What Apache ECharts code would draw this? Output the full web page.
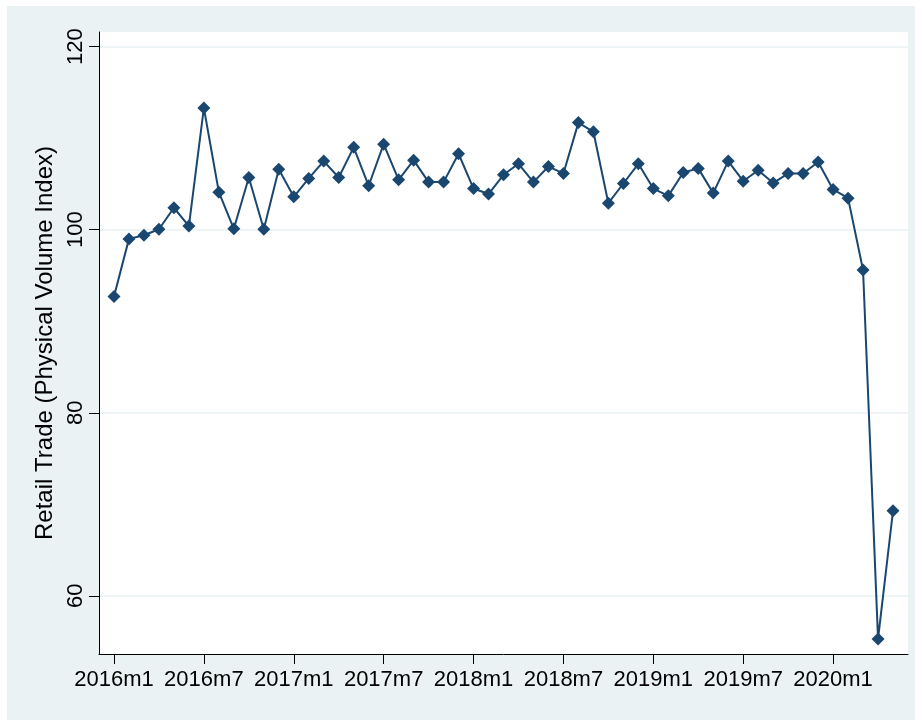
<!DOCTYPE html>
<html>
<head>
<meta charset="utf-8">
<script src="https://cdn.jsdelivr.net/npm/echarts@6/dist/echarts.min.js"></script>
<style>html,body{margin:0;padding:0;background:#fff;}#c{width:922px;height:723px;}</style>
</head>
<body>
<div id="c"></div>
<script>
// month labels 2016m1 .. 2020m5
const months = [
  '2016m1','2016m2','2016m3','2016m4','2016m5','2016m6','2016m7','2016m8','2016m9','2016m10','2016m11','2016m12',
  '2017m1','2017m2','2017m3','2017m4','2017m5','2017m6','2017m7','2017m8','2017m9','2017m10','2017m11','2017m12',
  '2018m1','2018m2','2018m3','2018m4','2018m5','2018m6','2018m7','2018m8','2018m9','2018m10','2018m11','2018m12',
  '2019m1','2019m2','2019m3','2019m4','2019m5','2019m6','2019m7','2019m8','2019m9','2019m10','2019m11','2019m12',
  '2020m1','2020m2','2020m3','2020m4','2020m5'
];
const retail = [
  92.7, 99.0, 99.4, 100.05, 102.4, 100.4, 113.3, 104.1, 100.1, 105.7, 100.05, 106.6,
  103.6, 105.6, 107.5, 105.7, 109.0, 104.8, 109.35, 105.45, 107.6, 105.2, 105.2, 108.3,
  104.5, 103.9, 106.0, 107.2, 105.2, 106.9, 106.15, 111.7, 110.7, 102.9, 105.05, 107.2,
  104.5, 103.7, 106.25, 106.7, 104.0, 107.5, 105.3, 106.5, 105.1, 106.15, 106.15, 107.4,
  104.4, 103.45, 95.6, 55.3, 69.3
];
const xTickIdx = [0, 6, 12, 18, 24, 30, 36, 42, 48];
const yTicks = [60, 80, 100, 120];
const yTitle = 'Retail Trade (Physical Volume Index)';

const chart = echarts.init(document.getElementById('c'), null, {renderer: 'canvas'});
const font = 'Liberation Sans, Arial, Helvetica, sans-serif';
chart.setOption({
  animation: false,
  backgroundColor: '#ffffff',
  graphic: [{
    type: 'rect', z: -10, silent: true,
    shape: {x: 7, y: 6, width: 908, height: 714},
    style: {fill: '#EAF2F3'}
  }],
  grid: {
    left: 99, top: 32, right: 14, bottom: 69,
    show: true, backgroundColor: '#ffffff', borderWidth: 0
  },
  xAxis: {
    type: 'value', min: -1, max: 53,
    axisLine: {show: true, onZero: false, lineStyle: {color: '#000', width: 1}},
    axisTick: {show: true, length: 10, customValues: xTickIdx, lineStyle: {color: '#000'}},
    axisLabel: {
      customValues: xTickIdx, margin: 15, color: '#000', fontSize: 22, fontFamily: font,
      formatter: v => months[v]
    },
    splitLine: {show: false}
  },
  yAxis: {
    type: 'value', min: 53.65, max: 121.6,
    name: yTitle, nameLocation: 'middle', nameRotate: 90, nameGap: 41,
    nameTextStyle: {color: '#000', fontSize: 24, fontFamily: font},
    axisLine: {show: true, onZero: false, lineStyle: {color: '#000', width: 1}},
    axisTick: {show: true, length: 10, customValues: yTicks, lineStyle: {color: '#000'}},
    axisLabel: {customValues: yTicks, rotate: 90, margin: 12, color: '#000', fontSize: 22, fontFamily: font},
    splitLine: {show: true, lineStyle: {color: '#EAF2F3', width: 1.5}}
  },
  series: [{
    type: 'line',
    data: retail.map((v, i) => [i, v]),
    symbol: 'diamond', symbolSize: 13,
    itemStyle: {color: '#1A476F'},
    lineStyle: {color: '#1A476F', width: 2}
  }]
});
</script>
</body>
</html>
